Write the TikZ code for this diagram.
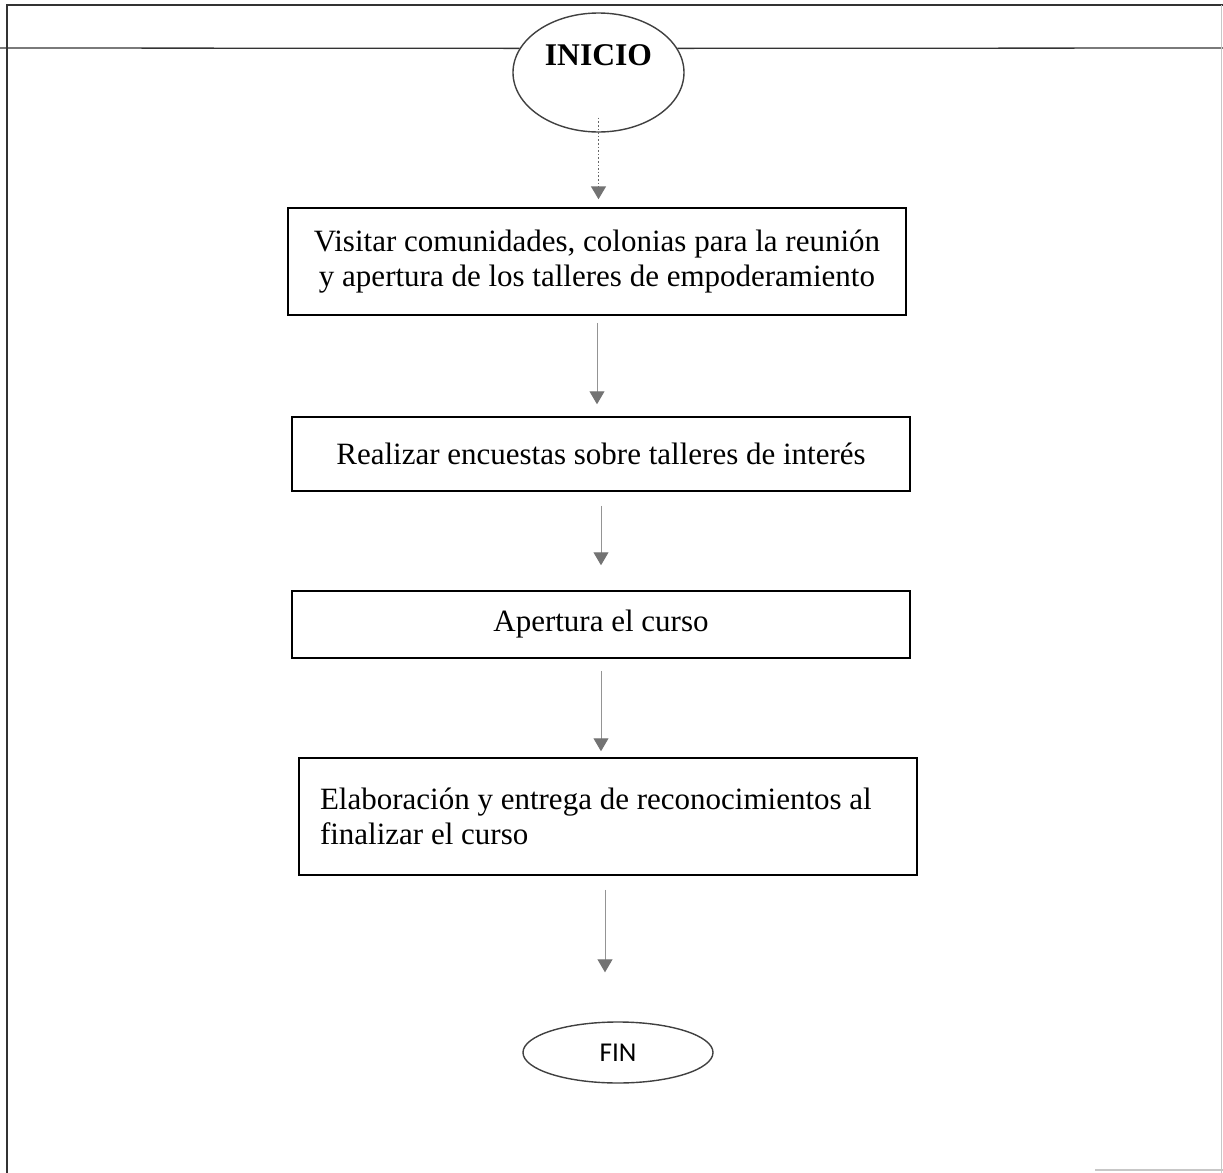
\documentclass[tikz,border=0pt]{standalone}
\usepackage{fontspec}
\setmainfont{Liberation Serif}
\newfontfamily\finfont{Carlito}
\usetikzlibrary{shapes.geometric,arrows.meta}

\tikzset{
  frameline/.style={draw=black!80, line width=0.65pt},
  faintline/.style={draw=black!22, line width=0.6pt},
  stepbox/.style={draw=black, line width=0.75pt, rectangle, inner sep=0pt,
    minimum width=309pt, font=\fontsize{15.5}{17.5}\selectfont},
  terminal/.style={draw=black!75, line width=0.7pt, ellipse, inner sep=0pt},
  flow/.style={draw=black!42, line width=0.5pt,
    -{Triangle[width=7.5pt,length=6.5pt,color=black!55,fill=black!55]}},
}

\begin{document}
\begin{tikzpicture}[x=0.5pt, y=-0.5pt]
  % page area
  \fill[white] (0,0) rectangle (1223,1173);
  \useasboundingbox (0,0) rectangle (1223,1173);

  % start and end terminals
  \node[terminal, minimum width=85.5pt, minimum height=59.5pt,
        label={[font=\fontsize{15.8}{18}\selectfont\bfseries, yshift=8.5pt]center:INICIO}]
        (inicio) at (598.5,72.5) {};
  \node[terminal, minimum width=95pt, minimum height=30.5pt,
        font=\finfont\fontsize{13.6}{16}\selectfont] (fin) at (618,1052.5) {FIN};

  % process steps
  \node[stepbox, minimum height=53.5pt, align=center] (b1) at (597,261.5)
    {Visitar comunidades, colonias para la reunión\\y apertura de los talleres de empoderamiento};
  \node[stepbox, minimum height=37pt, align=center] (b2) at (601,454)
    {Realizar encuestas sobre talleres de interés};
  \node[stepbox, minimum height=33.5pt, align=center] (b3) at (601,624.5)
    {Apertura el curso};
  \node[stepbox, minimum height=58.5pt, inner xsep=10.5pt, text width=288pt,
        minimum width=0pt, align=flush left] (b4) at (608,816.5)
    {Elaboración y entrega de reconocimientos al\\finalizar el curso};

  % outer frame
  \coordinate (tl) at (7,5);
  \coordinate (tr) at (1223,5);
  \coordinate (bl) at (7,1173);
  \coordinate (hl) at (0,48);
  \coordinate (hr) at (1223,48);
  \draw[frameline] (tr) -- (tl) -- (bl);
  \draw[frameline] (hl) -- (inicio.163);
  \draw[frameline] (inicio.17) -- (hr);
  \draw[faintline] (1221.5,5) -- (1221.5,1173);
  \draw[faintline] (1095,1170) -- (1223,1170);

  % connectors
  \draw[flow, draw=black!60, line width=0.8pt, densely dotted, shorten <=-7.5pt, shorten >=4pt]
    (inicio.south) -- (inicio.south |- b1.north);
  \draw[flow, shorten <=3.5pt, shorten >=6pt] (b1.south) -- (b1.south |- b2.north);
  \draw[flow, shorten <=7pt, shorten >=12.5pt] (b2.south) -- (b2.south |- b3.north);
  \draw[flow, shorten <=6pt, shorten >=3pt] (b3.south) -- (b3.south |- b4.north);
  \draw[flow, shorten <=7pt, shorten >=24.5pt] ([xshift=-1.5pt]b4.south) -- ([xshift=-1.5pt]b4.south |- fin.north);
\end{tikzpicture}
\end{document}
